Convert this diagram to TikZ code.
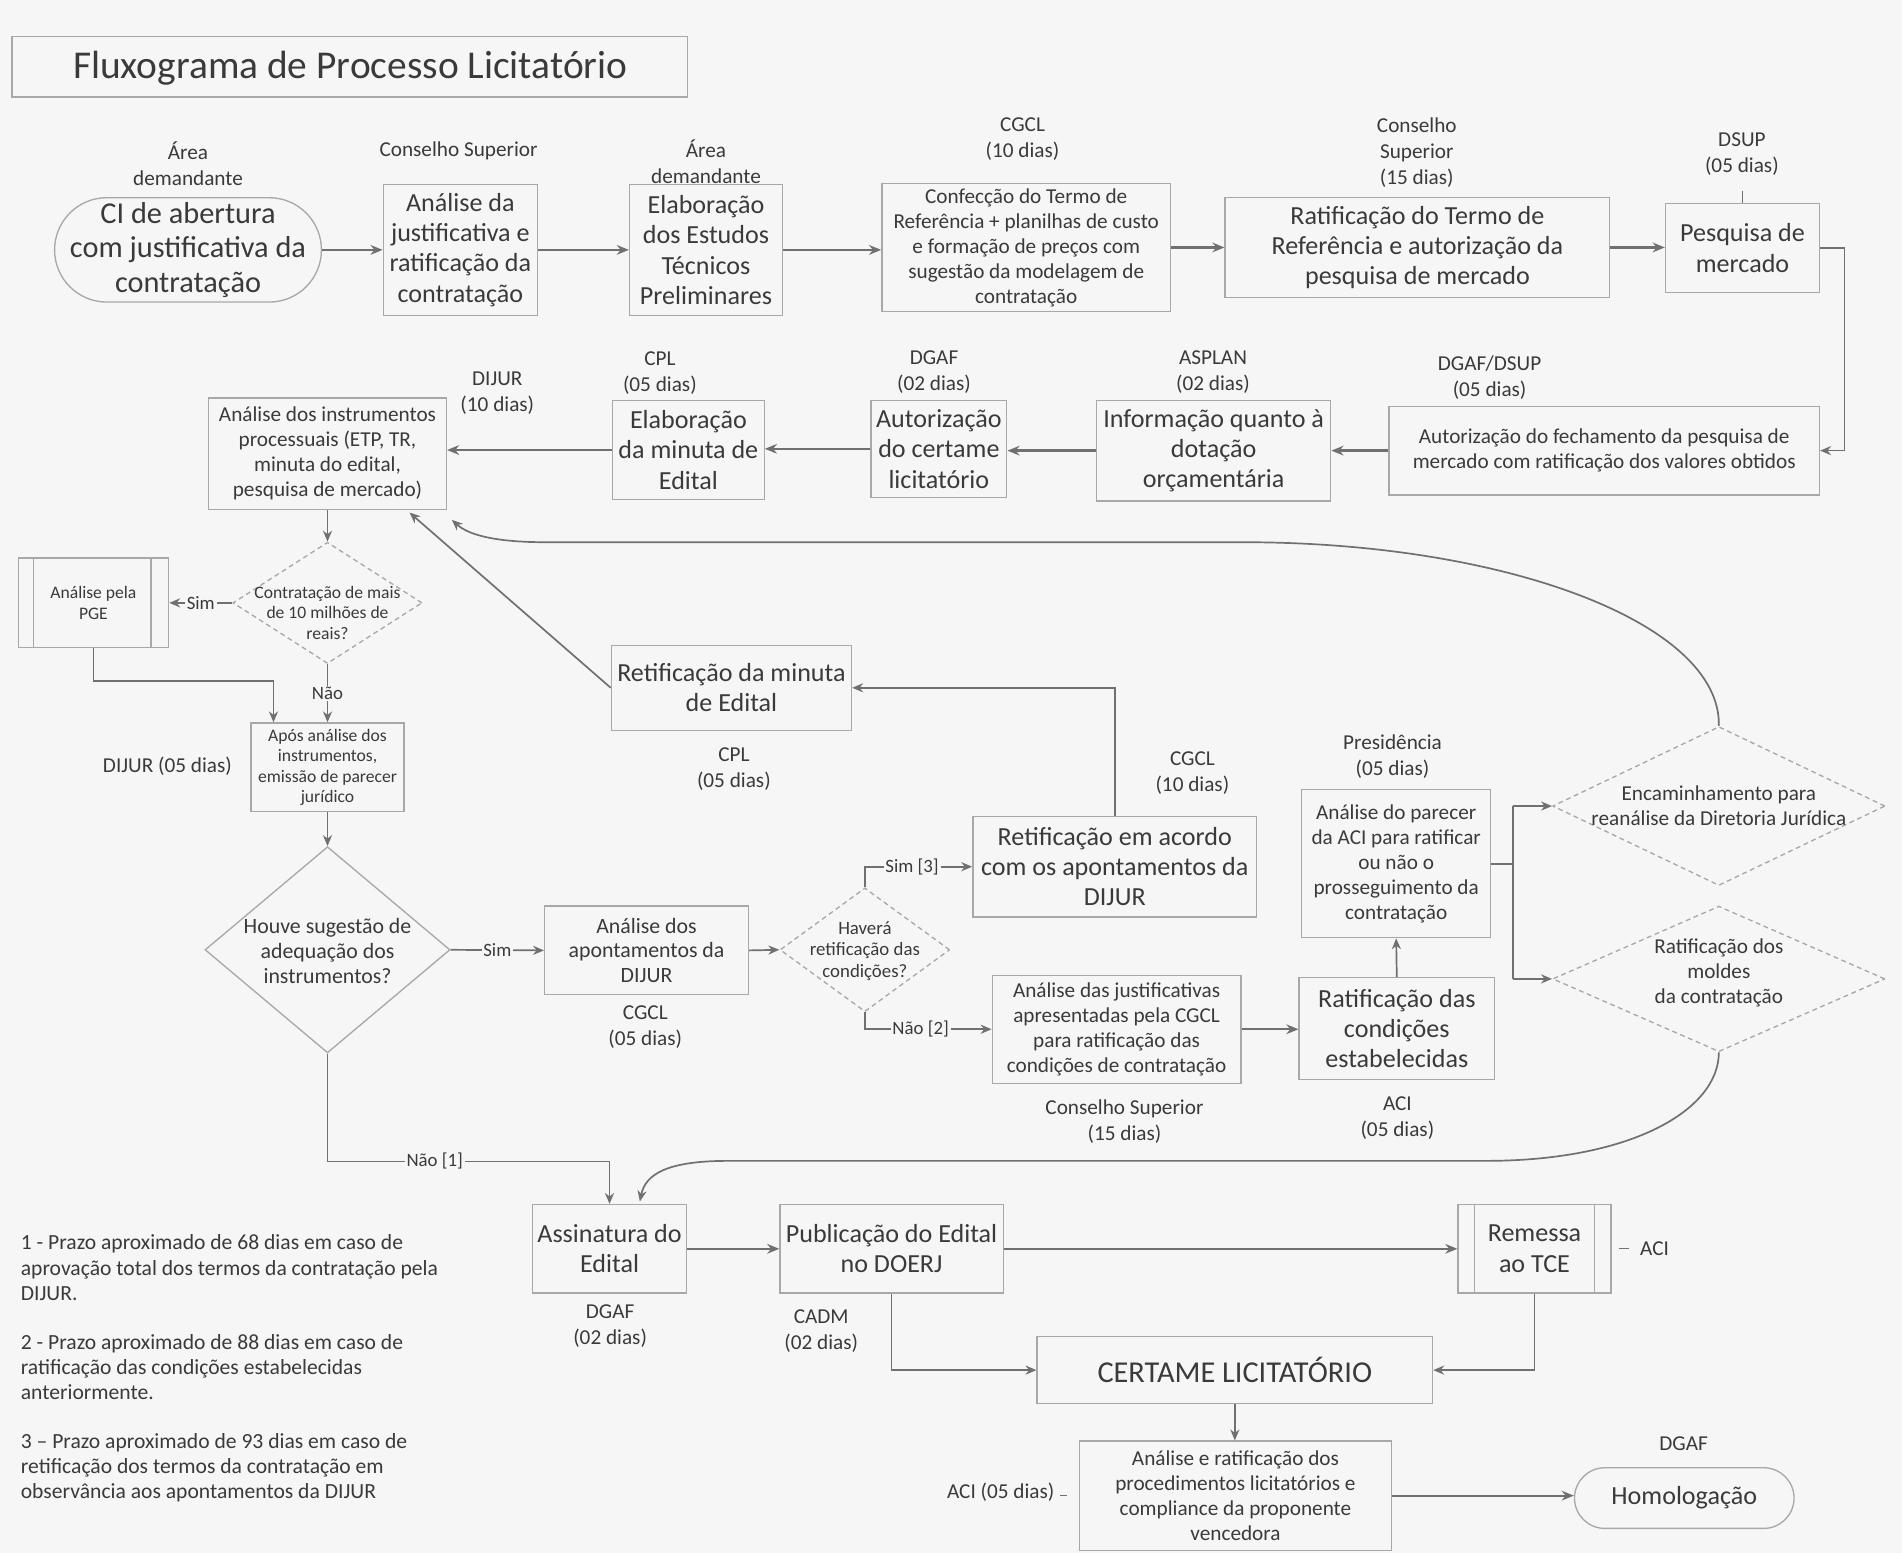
\documentclass[tikz,border=0pt]{standalone}
\usepackage{fontspec}
\setmainfont{Carlito}
\usetikzlibrary{arrows.meta,shapes.geometric,calc}
\definecolor{paper}{HTML}{F6F6F6}
\definecolor{ink}{HTML}{3A3A3A}
\definecolor{linec}{HTML}{707070}
\definecolor{boxc}{HTML}{A8A8A8}
\begin{document}
\begin{tikzpicture}[x=1pt,y=-1pt,
  every node/.style={text=ink, inner sep=0pt, align=center},
  box/.style={draw=boxc, line width=1.1pt, rectangle},
  dia/.style={draw=boxc, line width=1.1pt, diamond, dash pattern=on 4pt off 3pt},
  diasolid/.style={draw=boxc, line width=1.1pt, diamond},
  wh/.style 2 args={minimum width=#1pt, minimum height=#2pt},
  fTitle/.style={font=\fontsize{32.5}{38}\selectfont},
  fA/.style={font=\fontsize{25}{28.5}\selectfont},
  fB/.style={font=\fontsize{21.5}{25}\selectfont},
  fQ/.style={font=\fontsize{18}{20.5}\selectfont},
  fC/.style={font=\fontsize{17.5}{20.6}\selectfont},
  fE/.style={font=\fontsize{15.5}{18}\selectfont},
  fD/.style={font=\fontsize{14.5}{16.8}\selectfont},
  fT/.style={font=\fontsize{25}{30}\selectfont},
  fL/.style={font=\fontsize{17.5}{21.5}\selectfont},
  fN/.style={font=\fontsize{17.8}{20.7}\selectfont},
  arr/.style={draw=linec, line width=1.9pt, -{Stealth[length=10pt,width=8pt]}},
  tarr/.style={draw=linec, line width=1.4pt, -{Stealth[length=9pt,width=7.5pt]}},
  ln/.style={draw=linec, line width=1.4pt},
  lab/.style={fill=paper, inner xsep=1.5pt, inner ysep=1pt, font=\fontsize{15.5}{18}\selectfont},
]
\fill[paper] (0,0) rectangle (1568,1280);
\useasboundingbox (0,0) rectangle (1568,1280);

% title
\node[draw=boxc, line width=1.1pt, wh={557}{50}] (tbox) at (288.5,55) {};
\node[anchor=west, fTitle] (title) at (60,56) {Fluxograma de Processo Licitatório};

% ---------- row 1
\node[box, rounded corners=43pt, wh={220}{86}, fA] (ci) at (155,206) {CI de abertura\\com justificativa da\\contratação};
\node[box, wh={127}{108}, fB] (ajust) at (379.5,206) {Análise da\\justificativa e\\ratificação da\\contratação};
\node[box, wh={126}{108}, fB] (eetp) at (582,206) {Elaboração\\dos Estudos\\Técnicos\\Preliminares};
\node[box, wh={238}{106}, fC] (conf) at (846,204) {Confecção do Termo de\\Referência + planilhas de custo\\e formação de preços com\\sugestão da modelagem de\\contratação};
\node[box, wh={317}{82}, fB] (ratt) at (1168.5,204) {Ratificação do Termo de\\Referência e autorização da\\pesquisa de mercado};
\node[box, wh={127}{73}, fB] (pesq) at (1436.5,204.5) {Pesquisa de\\mercado};

\node[fL] (l1) at (155,135) {Área\\demandante};
\node[fL] (l2) at (378,124) {Conselho Superior};
\node[fL] (l3) at (582,133) {Área\\demandante};
\node[fL] (l4) at (843,115) {CGCL\\(10 dias)};
\node[fL] (l5) at (1168,126) {Conselho\\Superior\\(15 dias)};
\node[fL] (l6) at (1436,127) {DSUP\\(05 dias)};

% ---------- row 2
\node[box, wh={355}{73}, fC] (afech) at (1322.5,371.5) {Autorização do fechamento da pesquisa de\\mercado com ratificação dos valores obtidos};
\node[box, wh={193}{83}, fB] (info) at (1000.5,371.5) {Informação quanto à\\dotação\\orçamentária};
\node[box, wh={112}{80}, fB] (acert) at (774,370) {Autorização\\do certame\\licitatório};
\node[box, wh={125}{82}, fB] (emin) at (567.5,371) {Elaboração\\da minuta de\\Edital};
\node[box, wh={196}{92}, fC] (ainst) at (270,374) {Análise dos instrumentos\\processuais (ETP, TR,\\minuta do edital,\\pesquisa de mercado)};

\node[fL] (l7) at (1228,311) {DGAF/DSUP\\(05 dias)};
\node[fL] (l8) at (1000,306.5) {ASPLAN\\(02 dias)};
\node[fL] (l9) at (770,306.5) {DGAF\\(02 dias)};
\node[fL] (l10) at (544,307.5) {CPL\\(05 dias)};
\node[fL] (l11) at (410,324) {DIJUR\\(10 dias)};

% ---------- middle
\node[dia, wh={156}{100}] (d1) at (270,497) {};
\node[fD] (d1t) at (270,505) {Contratação de mais\\de 10 milhões de\\reais?};
\node[box, wh={124}{74}, fD] (pge) at (77,497) {Análise pela\\PGE};
\draw[draw=boxc, line width=1.1pt] ($(pge.north west)+(13,0)$) -- ($(pge.south west)+(13,0)$);
\draw[draw=boxc, line width=1.1pt] ($(pge.north east)+(-15,0)$) -- ($(pge.south east)+(-15,0)$);
\node[box, wh={126}{73}, fD] (apos) at (270,632.5) {Após análise dos\\instrumentos,\\emissão de parecer\\jurídico};
\node[fL] (l12) at (138,632) {DIJUR (05 dias)};

\node[diasolid, wh={202}{170}] (d2) at (270,783) {};
\node[fQ] (d2t) at (270,784) {Houve sugestão de\\adequação dos\\instrumentos?};
\node[box, wh={168}{73}, fQ] (aap) at (533,783.5) {Análise dos\\apontamentos da\\DIJUR};
\node[fL] (l13) at (532,846.5) {CGCL\\(05 dias)};
\node[dia, wh={140}{102}] (d3) at (713,783) {};
\node[fE] (d3t) at (713,784) {Haverá\\retificação das\\condições?};

\node[box, wh={234}{83}, fB] (retac) at (919,714.5) {Retificação em acordo\\com os apontamentos da\\DIJUR};
\node[fL] (l14) at (983,637.5) {CGCL\\(10 dias)};
\node[box, wh={198}{70}, fB] (retmin) at (603,567) {Retificação da minuta\\de Edital};
\node[fL] (l15) at (605,634) {CPL\\(05 dias)};
\node[box, wh={205}{89}, fC] (ajust2) at (920.5,848.5) {Análise das justificativas\\apresentadas pela CGCL\\para ratificação das\\condições de contratação};
\node[fL] (l16) at (927,924.5) {Conselho Superior\\(15 dias)};
\node[box, wh={161}{84}, fB] (ratc) at (1151.5,848) {Ratificação das\\condições\\estabelecidas};
\node[fL] (l17) at (1152,922) {ACI\\(05 dias)};
\node[box, wh={156}{122}, fC] (apar) at (1151,712) {Análise do parecer\\da ACI para ratificar\\ou não o\\prosseguimento da\\contratação};
\node[fL] (l18) at (1148,623.5) {Presidência\\(05 dias)};
\node[dia, wh={274}{131}] (d4) at (1417,664.5) {};
\node[fC] (d4t) at (1417,664) {Encaminhamento para\\reanálise da Diretoria Jurídica};
\node[dia, wh={274}{120}] (d5) at (1417,807) {};
\node[fC] (d5t) at (1417,802) {Ratificação dos\\moldes\\da contratação};

% ---------- bottom
\node[box, wh={127}{73}, fB] (assin) at (502.5,1029.5) {Assinatura do\\Edital};
\node[fL] (l19) at (503,1093.5) {DGAF\\(02 dias)};
\node[box, wh={184}{73}, fB] (publ) at (735,1029.5) {Publicação do Edital\\no DOERJ};
\node[fL] (l20) at (677,1097.5) {CADM\\(02 dias)};
\node[box, wh={126}{73}, fB] (rem) at (1265,1029.5) {Remessa\\ao TCE};
\draw[draw=boxc, line width=1.1pt] ($(rem.north west)+(14,0)$) -- ($(rem.south west)+(14,0)$);
\draw[draw=boxc, line width=1.1pt] ($(rem.north east)+(-14,0)$) -- ($(rem.south east)+(-14,0)$);
\node[fL] (l21) at (1364,1029) {ACI};
\node[box, wh={326}{55}, fT] (cert) at (1018,1129.5) {CERTAME LICITATÓRIO};
\node[box, wh={257}{90}, fC] (arat) at (1018.5,1233) {Análise e ratificação dos\\procedimentos licitatórios e\\compliance da proponente\\vencedora};
\node[fL] (l22) at (825,1230) {ACI (05 dias)};
\node[box, rounded corners=25pt, wh={181}{50}, fB] (homol) at (1388.5,1235) {Homologação};
\node[fL] (l23) at (1388,1190) {DGAF};

% footnotes
\node[fN, anchor=west, align=left] (n1) at (17,1045) {1 - Prazo aproximado de 68 dias em caso de\\aprovação total dos termos da contratação pela\\DIJUR.};
\node[fN, anchor=west, align=left] (n2) at (17,1127) {2 - Prazo aproximado de 88 dias em caso de\\ratificação das condições estabelecidas\\anteriormente.};
\node[fN, anchor=west, align=left] (n3) at (17,1210) {3 – Prazo aproximado de 93 dias em caso de\\retificação dos termos da contratação em\\observância aos apontamentos da DIJUR};

% ---------- connectors
\draw[arr] (ci.east) -- (ci.east -| ajust.west);
\draw[arr] (ajust.east) -- (ajust.east -| eetp.west);
\draw[arr] (eetp.east) -- (eetp.east -| conf.west);
\draw[arr] (conf.east) -- (conf.east -| ratt.west);
\draw[arr] (ratt.east) -- (ratt.east -| pesq.west);
\draw[tarr] (pesq.east) -- ++(20,0) |- (afech.east);
\draw[arr] (afech.west) -- (afech.west -| info.east);
\draw[arr] (info.west) -- (info.west -| acert.east);
\draw[arr] (acert.west) -- (acert.west -| emin.east);
\draw[arr] (emin.west) -- (emin.west -| ainst.east);
\draw[tarr] (ainst.south) -- (d1.north);
\draw[tarr] (d1.west) -- node[lab]{Sim} (pge.east);
\draw[tarr] (d1.south) -- node[lab]{Não} (apos.north);
\draw[tarr] (pge.south) |- ($(apos.north west)+(19,-34)$) -- ($(apos.north west)+(19,0)$);
\draw[tarr] (apos.south) -- (d2.north);
\draw[tarr] (d2.east) -- node[lab]{Sim} (aap.west);
\draw[tarr] (aap.east) -- (d3.west);
\draw[tarr] (d3.north) |- node[lab, pos=0.72]{Sim [3]} (retac.west);
\draw[tarr] (d3.south) |- node[lab, pos=0.72]{Não [2]} (ajust2.west);
\draw[tarr] (retac.north) |- (retmin.east);
\draw[tarr] (retmin.west) -- ($(ainst.south east)+(-31,2)$);
\draw[arr] (ajust2.east) -- (ajust2.east -| ratc.west);
\draw[tarr] (ratc.north) -- (apar.south);
\draw[ln] (apar.east) -- ++(18,0) coordinate (bus);
\draw[ln] (bus |- d4.west) -- (bus |- d5.west);
\draw[tarr] (bus |- d4.west) -- (d4.west);
\draw[tarr] (bus |- d5.west) -- (d5.west);
\draw[tarr] (d4.north) .. controls (1419,514) and (1242,447) .. (1025,447) -- (450,447) .. controls (405,447) and (385,440) .. ($(ainst.south east)+(4,8)$);
\draw[tarr] (d5.south) .. controls (1417,915) and (1345,957) .. (1225,957) -- (600,957) .. controls (550,957) and (532,968) .. ($(assin.north)+(25,-2)$);
\draw[tarr] (d2.south) |- node[lab, pos=0.69]{Não [1]} ($(assin.north)+(0,-35)$) -- (assin.north);
\draw[arr] (assin.east) -- (assin.east -| publ.west);
\draw[arr] (publ.east) -- (publ.east -| rem.west);
\draw[tarr] (publ.south) |- (cert.west);
\draw[tarr] (rem.south) |- (cert.east);
\draw[tarr] (cert.south) -- (cert.south |- arat.north);
\draw[arr] (arat.east) -- (arat.east -| homol.west);
\draw[draw=linec, line width=0.8pt] ($(rem.east)+(6,0)$) -- ($(rem.east)+(14,0)$);
\draw[draw=linec, line width=0.8pt] ($(arat.west)+(-16,0)$) -- ($(arat.west)+(-10,0)$);
\draw[draw=linec, line width=0.8pt] ($(pesq.north)+(0,-10)$) -- (pesq.north);
\end{tikzpicture}
\end{document}
